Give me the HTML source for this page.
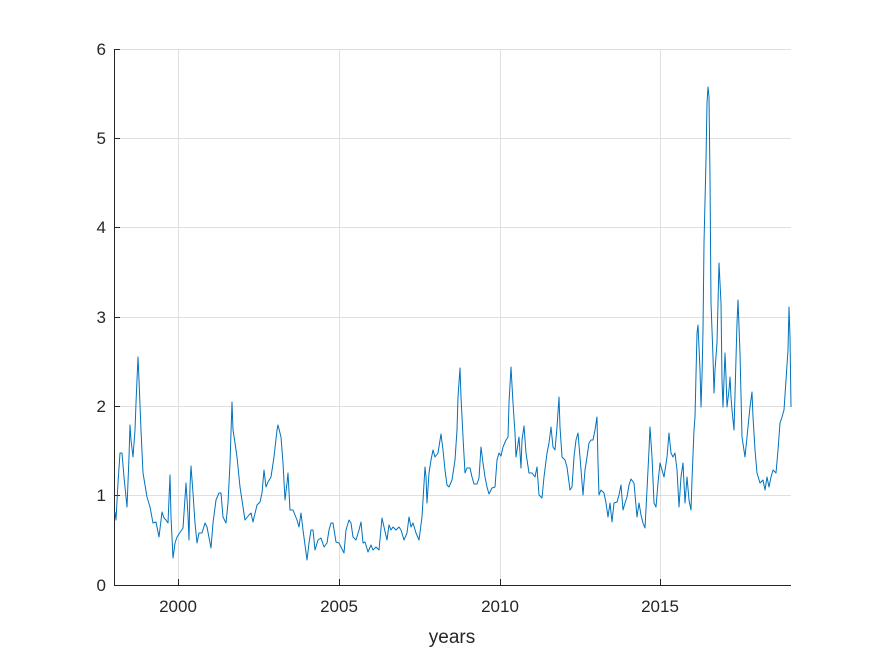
<!DOCTYPE html>
<html><head><meta charset="utf-8"><style>
html,body{margin:0;padding:0;background:#fff}
svg{display:block}
text{font-family:"Liberation Sans",Arial,sans-serif;fill:#262626}
</style></head><body>
<svg width="875" height="656" viewBox="0 0 875 656">
<rect width="875" height="656" fill="#fff"/>
<g stroke="#dfdfdf" stroke-width="1">
<line x1="178.5" y1="49" x2="178.5" y2="585"/>
<line x1="339.5" y1="49" x2="339.5" y2="585"/>
<line x1="500.5" y1="49" x2="500.5" y2="585"/>
<line x1="660.5" y1="49" x2="660.5" y2="585"/>
<line x1="114" y1="49.5" x2="791" y2="49.5"/>
<line x1="114" y1="138.5" x2="791" y2="138.5"/>
<line x1="114" y1="227.5" x2="791" y2="227.5"/>
<line x1="114" y1="317.5" x2="791" y2="317.5"/>
<line x1="114" y1="406.5" x2="791" y2="406.5"/>
<line x1="114" y1="495.5" x2="791" y2="495.5"/>
</g>
<g stroke="#262626" stroke-width="1">
<line x1="114.5" y1="49" x2="114.5" y2="585.5"/>
<line x1="114" y1="585.5" x2="791" y2="585.5"/>
<line x1="114" y1="49.5" x2="120" y2="49.5"/>
<line x1="114" y1="138.5" x2="120" y2="138.5"/>
<line x1="114" y1="227.5" x2="120" y2="227.5"/>
<line x1="114" y1="317.5" x2="120" y2="317.5"/>
<line x1="114" y1="406.5" x2="120" y2="406.5"/>
<line x1="114" y1="495.5" x2="120" y2="495.5"/>
<line x1="178.5" y1="585" x2="178.5" y2="579"/>
<line x1="339.5" y1="585" x2="339.5" y2="579"/>
<line x1="500.5" y1="585" x2="500.5" y2="579"/>
<line x1="660.5" y1="585" x2="660.5" y2="579"/>
</g>
<polyline fill="none" stroke="#0072bd" stroke-width="1" stroke-linejoin="round" points="
115,512 116,520 118,483 120,453 122,453 124,477 126,497 127,507 129,457 130,425 131,440 133,457 135,430 136,403 137,380 138,357 139,380 141,430 143,473 147,497 150,507 153,523 156,522 157,527 159,537 162,512 164,518 166,520 168,523 170,475 171,517 173,558 175,543 177,537 183,528 186,483 188,515 189,540 190,487 191,466 193,493 195,523 197,543 199,533 202,533 205,523 207,527 211,548 213,523 216,500 219,493 221,493 223,517 226,523 228,503 230,463 232,402 233,430 235,443 237,457 240,487 243,507 245,520 249,515 251,513 253,522 257,505 260,502 262,493 264,470 266,487 268,482 271,477 274,457 277,430 278,425 281,437 283,463 285,500 287,483 288,473 290,510 293,510 297,520 299,527 301,513 303,530 307,560 309,543 311,530 313,530 315,550 318,540 321,538 324,547 327,543 329,530 331,523 333,523 336,542 339,543 341,547 344,553 346,530 349,520 351,523 353,537 356,540 359,530 361,522 363,543 365,542 368,552 371,545 373,550 376,547 379,550 382,518 384,527 387,540 389,525 391,530 393,527 396,530 399,527 401,530 404,540 407,533 409,517 411,527 413,523 416,533 419,540 422,517 425,467 426,477 427,503 429,473 431,460 433,450 435,457 438,453 441,434 443,450 445,470 447,485 449,487 452,480 455,460 457,430 458,397 460,368 461,397 463,437 465,473 467,468 470,468 472,477 474,484 477,484 479,478 481,447 483,463 485,477 487,487 489,494 492,488 495,487 497,460 499,453 501,456 503,447 506,440 508,437 509,403 511,367 513,403 515,433 516,457 519,437 521,468 522,440 524,426 526,453 529,473 532,473 535,477 537,467 539,495 542,498 544,477 547,453 549,443 551,427 553,447 555,450 557,427 559,397 560,427 562,457 565,460 567,467 570,490 572,487 574,457 576,440 578,433 580,457 583,495 585,470 587,457 589,443 591,440 593,440 595,430 597,417 598,463 599,495 601,490 604,493 606,503 608,517 610,503 612,522 614,503 617,502 619,495 621,485 623,510 625,503 627,497 629,485 631,479 634,483 637,517 639,503 641,515 643,523 645,528 647,490 649,450 650,427 652,457 654,503 656,507 658,483 660,463 662,470 664,477 667,457 669,433 671,453 673,457 675,453 677,470 679,507 681,477 683,463 685,503 687,477 689,500 691,510 692,480 694,430 695,417 697,333 698,325 700,370 701,407 702,377 703,330 704,243 706,160 707,103 708,87 709,97 710,177 711,303 713,357 714,393 715,370 717,343 719,263 721,303 722,380 723,407 725,353 726,377 727,407 729,390 730,377 731,397 732,410 734,430 737,323 738,300 740,353 742,437 745,457 748,427 750,407 752,392 753,417 755,450 757,473 760,483 763,480 765,490 767,477 769,487 771,477 773,470 776,473 778,450 780,423 782,417 784,410 786,380 788,350 789,307 790,337 791,407"/>
<g font-size="17" text-anchor="end">
<text x="106" y="55">6</text>
<text x="106" y="144">5</text>
<text x="106" y="233">4</text>
<text x="106" y="323">3</text>
<text x="106" y="412">2</text>
<text x="106" y="501">1</text>
<text x="106" y="591">0</text>
</g>
<g font-size="17" text-anchor="middle">
<text x="178" y="612">2000</text>
<text x="339" y="612">2005</text>
<text x="500" y="612">2010</text>
<text x="660" y="612">2015</text>
<text x="452" y="643" font-size="19">years</text>
</g>
</svg>
</body></html>
